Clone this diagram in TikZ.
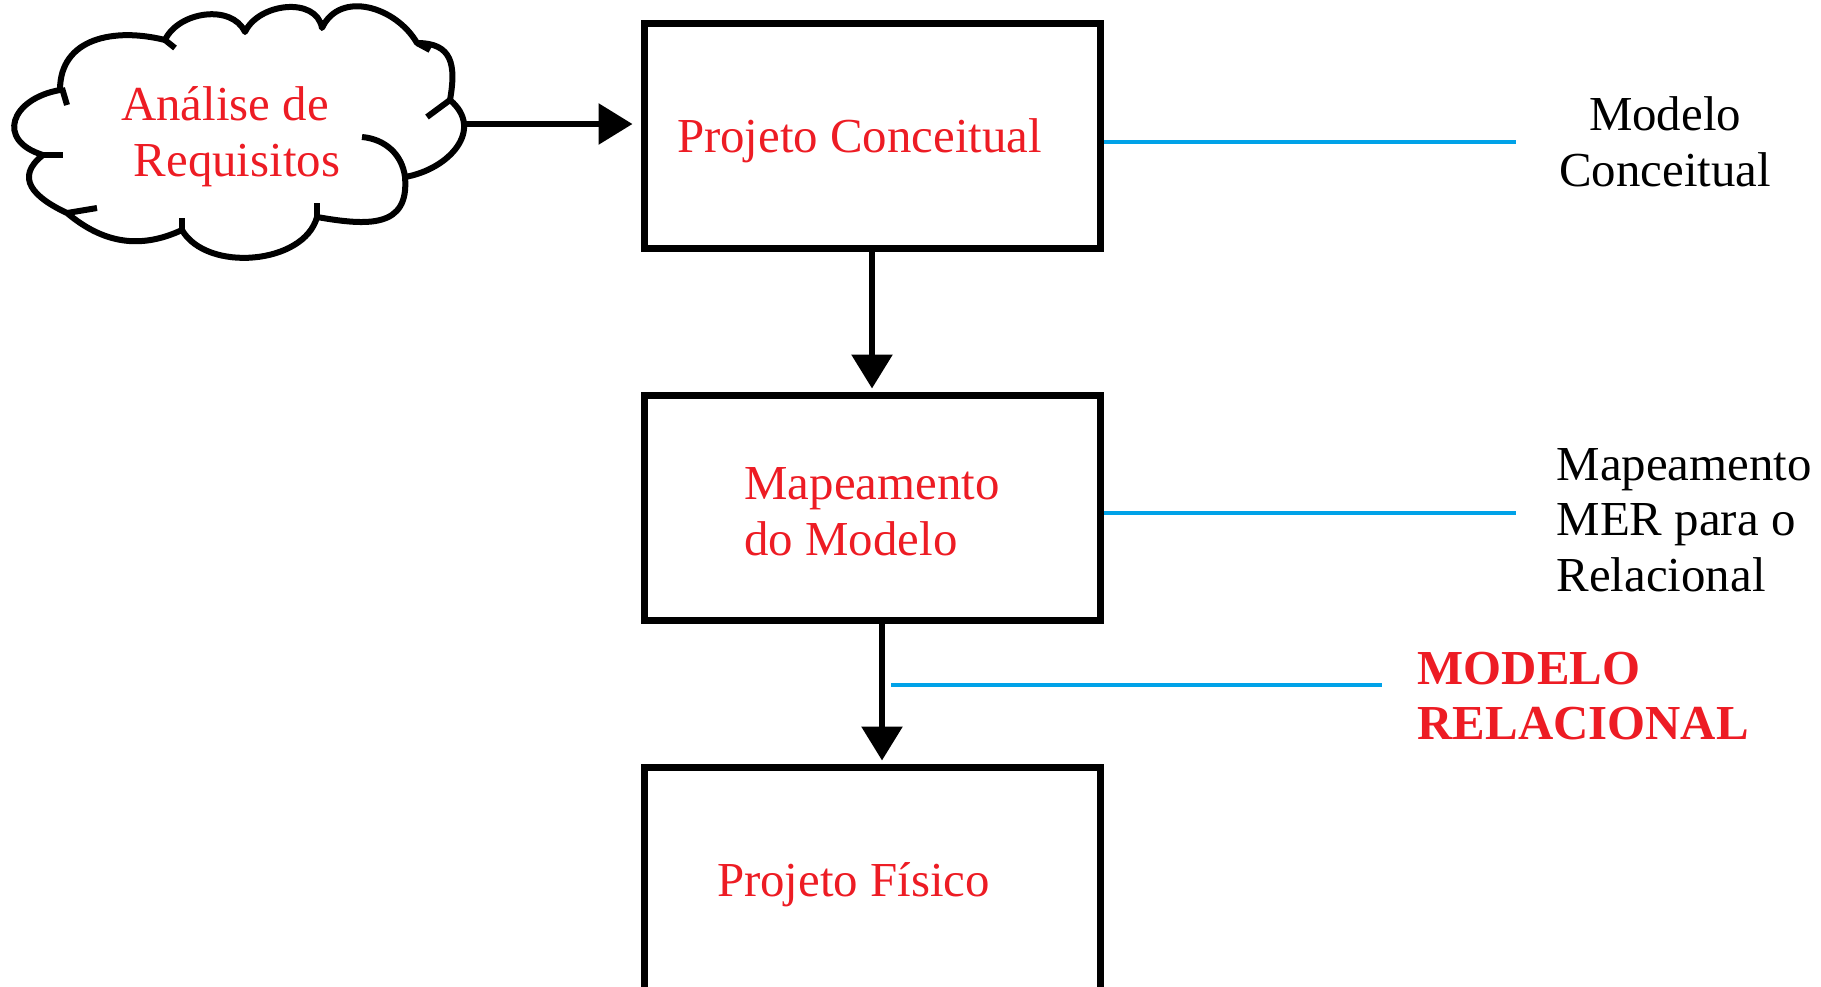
\documentclass[tikz,border=0pt]{standalone}
\usepackage{fontspec}
\setmainfont{Liberation Serif}
\usetikzlibrary{arrows.meta}
\definecolor{fasered}{RGB}{237,28,36}
\definecolor{linkblue}{RGB}{0,162,232}
\newcommand{\fonte}{\fontsize{13.9pt}{15.85pt}\selectfont}
\tikzstyle{arrow} = [line width=0.06cm,-{Triangle[width=0.4cm,length=0.34cm]}]
\tikzstyle{rec} = [rectangle, minimum width=4.56cm, minimum height=2.25cm, align=center, draw=black, line width=0.07cm, text=fasered, text height=0.55cm, text depth=0.23cm]
\tikzstyle{nuvem} = [draw=black, line width=0.06cm, line join=round]
\tikzstyle{blueline} = [line width=0.04cm, draw=linkblue]

\begin{document}
\begin{tikzpicture}[node distance=3.72cm, font=\fonte]
	\useasboundingbox (0,0) rectangle (18.21,-9.87);
	\clip (0,0) rectangle (18.21,-9.87);
	% nuvem
	\draw [nuvem] (0.43,-1.55) to[out=163,in=190,looseness=1.9] (0.60,-0.90)
		to[out=90,in=166,looseness=1.15] (1.65,-0.40)
		to[out=65,in=115,looseness=1.0] (2.45,-0.32)
		to[out=65,in=100,looseness=1.07] (3.22,-0.28)
		to[out=65,in=120,looseness=1.12] (4.17,-0.43)
		to[out=0,in=80,looseness=1.38] (4.50,-1.00)
		to[out=-40,in=10,looseness=1.3] (4.05,-1.77)
		to[out=-85,in=-10,looseness=1.36] (3.17,-2.17)
		to[out=-105,in=-60,looseness=0.93] (1.82,-2.30)
		to[out=-155,in=-40,looseness=1.03] (0.67,-2.13)
		to[out=155,in=218,looseness=1.5] cycle;
	\draw [nuvem] (0.43,-1.55) -- (0.63,-1.55);
	\draw [nuvem] (0.62,-0.88) -- (0.67,-1.05);
	\draw [nuvem] (1.65,-0.40) -- (1.75,-0.48);
	\draw [nuvem] (4.17,-0.43) -- (4.30,-0.50);
	\draw [nuvem] (4.50,-1.00) -- (4.27,-1.17);
	\draw [nuvem] (4.05,-1.77) to[out=97,in=-5] (3.62,-1.37);
	\draw [nuvem] (3.17,-2.17) -- (3.17,-2.03);
	\draw [nuvem] (1.82,-2.30) -- (1.82,-2.18);
	\draw [nuvem] (0.67,-2.13) -- (0.97,-2.08);
	\coordinate (nuvemleste) at (4.62,-1.24);
	% caixas
	\node (analise) [text=fasered, align=center] at (2.37,-1.365) {Análise de\hspace*{0.24cm}\\ Requisitos};
	\node (conceitual) [rec] at (8.72,-1.36) {Projeto Conceitual\hspace*{0.25cm}};
	\node (mapeamento) [rec, below of=conceitual, align=left, text height=0.95cm, text depth=0cm] {Mapeamento \\ do Modelo};
	\node (fisico) [rec, below of=mapeamento, text height=0.56cm] {Projeto Físico\hspace*{0.37cm}};
	\node (modelo) [align=center] at (16.65,-1.42) {Modelo \\ Conceitual};
	\node (mer) [anchor=west, align=left, inner sep=0] at (15.56,-5.20) {Mapeamento \\ MER para o \\ Relacional};
	\node (relacional) [anchor=west, align=left, inner sep=0, text=fasered, font=\fonte\bfseries] at (14.17,-6.96) {MODELO \\ RELACIONAL};
	\coordinate (fim1) at (15.16,-1.42);
	\coordinate (fim2) at (15.16,-5.13);
	\coordinate (ini3) at (8.91,-6.85);
	\coordinate (fim3) at (13.82,-6.85);
	% setas
	\draw [arrow, shorten >=0.08cm] (nuvemleste) -- (nuvemleste -| conceitual.west);
	\draw [arrow, shorten >=0.035cm] (conceitual) -- (mapeamento);
	\draw [arrow, shorten >=0.035cm] ([xshift=0.1cm]mapeamento.south) -- ([xshift=0.1cm]fisico.north);
	\draw [blueline] (conceitual.east |- fim1) -- (fim1);
	\draw [blueline] (mapeamento.east |- fim2) -- (fim2);
	\draw [blueline] (ini3) -- (fim3);
\end{tikzpicture}
\end{document}
